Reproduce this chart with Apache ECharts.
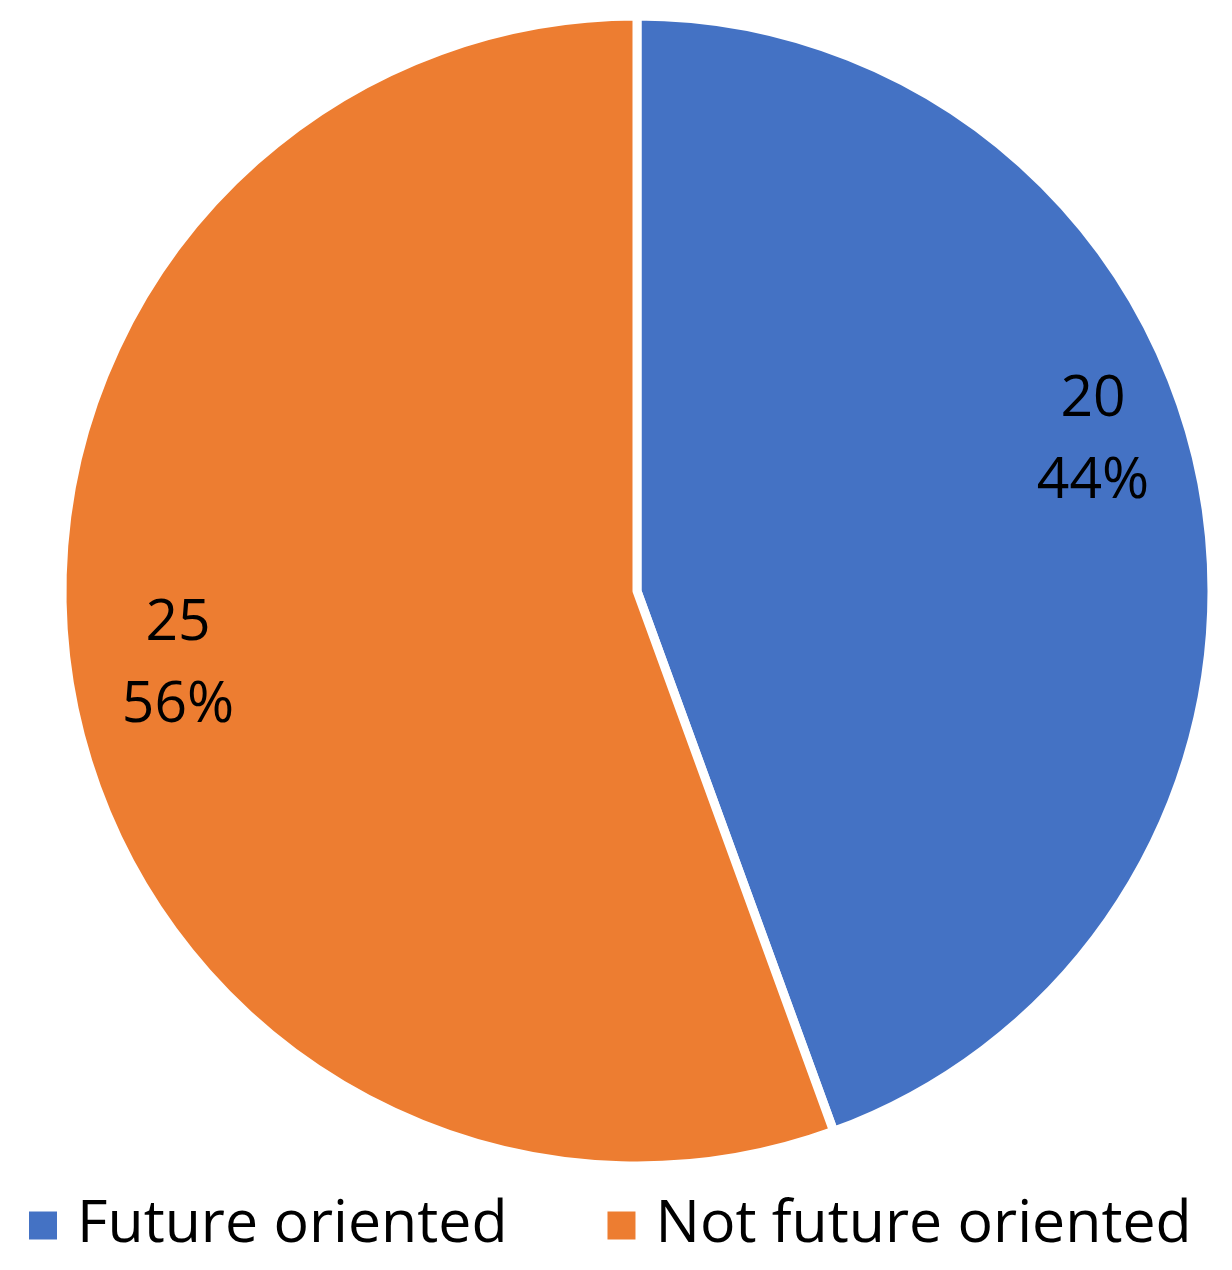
<!DOCTYPE html>
<html>
<head>
<meta charset="utf-8">
<script src="https://cdn.jsdelivr.net/npm/echarts@6/dist/echarts.min.js"></script>
<style>
  html, body { margin: 0; padding: 0; background: #fff; }
  #main { width: 1232px; height: 1270px; }
</style>
</head>
<body>
<div id="main"></div>
<script>
  // data
  var categories = ['Future oriented', 'Not future oriented'];
  var counts = [20, 25];
  var colors = ['#4472C4', '#ED7D31'];
  // where Excel put the data labels (centre of the two-line label)
  var labelSpots = [[1093, 441], [178, 665]];

  var chart = echarts.init(document.getElementById('main'));

  chart.setOption({
    animation: false,
    legend: {
      left: 22,
      top: 1191,
      itemWidth: 30,
      itemHeight: 30,
      itemGap: 98,
      icon: 'rect',
      data: categories,
      textStyle: {
        fontFamily: 'Open Sans',
        fontSize: 59,
        color: '#000',
        padding: [0, 0, 0, 14]
      }
    },
    series: [{
      type: 'pie',
      center: [637, 591],
      radius: 575,
      startAngle: 90,
      clockwise: true,
      percentPrecision: 0,
      itemStyle: {
        borderColor: '#fff',
        borderWidth: 9
      },
      label: {
        position: 'inside',
        formatter: '{c}\n{d}%',
        fontFamily: 'Open Sans',
        fontSize: 57,
        lineHeight: 82,
        color: '#000',
        align: 'center'
      },
      labelLayout: function (params) {
        var p = labelSpots[params.dataIndex];
        return { x: p[0], y: p[1], align: 'center', verticalAlign: 'middle' };
      },
      data: categories.map(function (name, i) {
        return { name: name, value: counts[i], itemStyle: { color: colors[i] } };
      })
    }]
  });
</script>
</body>
</html>
